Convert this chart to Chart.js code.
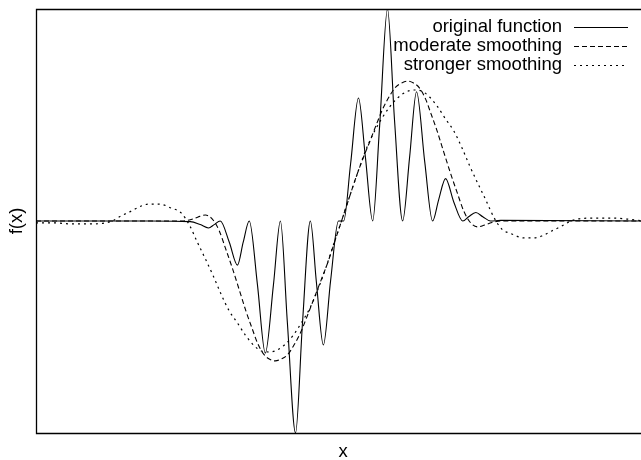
<!DOCTYPE html>
<html>
<head>
<meta charset="utf-8">
<script src="https://cdn.jsdelivr.net/npm/chart.js@4"></script>
<style>
  body { margin: 0; background: #fff; }
</style>
</head>
<body>
<canvas id="myChart" width="641" height="460"></canvas>
<script>
var seriesNames = ['original function', 'moderate smoothing', 'stronger smoothing'];

// original function
var xOrig = [-10, -6.23, -4.90, -4.57, -4.30, -4.11, -3.91, -3.61, -3.34, -3.15, -2.95, -2.68, -2.42, -2.15, -1.92, -1.69, -1.42, -1.19, -0.93, -0.73, -0.50, -0.26, 0.00, 0.17, 0.40, 0.66, 0.89, 1.13, 1.36, 1.62, 1.85, 2.12, 2.35, 2.58, 2.85, 3.11, 3.31, 3.54, 3.81, 4.11, 4.30, 4.54, 4.77, 5.03, 5.36, 10];
var yOrig = [0, 0, -0.003, -0.017, -0.033, -0.017, 0, -0.10, -0.208, -0.10, 0, -0.30, -0.623, -0.30, 0, -0.48, -1.0, -0.48, 0, -0.29, -0.585, -0.28, 0, 0, 0.27, 0.58, 0.30, 0, 0.45, 1.0, 0.48, 0, 0.30, 0.61, 0.28, 0, 0.10, 0.20, 0.09, 0, 0.02, 0.04, 0.02, 0, 0.003, 0];

// moderate smoothing
var xMod = [-10, -5.17, -4.87, -4.64, -4.40, -4.17, -3.94, -3.74, -3.51, -3.28, -3.05, -2.85, -2.68, -2.48, -2.29, -2.09, -1.89, -1.69, -1.49, -1.26, -1.06, -0.83, -0.60, -0.36, -0.13, 0.10, 0.33, 0.56, 0.79, 1.03, 1.26, 1.46, 1.69, 1.89, 2.09, 2.29, 2.48, 2.68, 2.88, 3.05, 3.25, 3.48, 3.71, 3.94, 4.14, 4.37, 4.60, 4.83, 5.07, 5.36, 10];
var yMod = [0, 0, 0.007, 0.019, 0.028, 0.009, -0.047, -0.127, -0.222, -0.325, -0.429, -0.509, -0.575, -0.627, -0.651, -0.660, -0.651, -0.632, -0.590, -0.528, -0.458, -0.373, -0.288, -0.198, -0.099, 0, 0.099, 0.198, 0.288, 0.373, 0.458, 0.528, 0.590, 0.632, 0.651, 0.660, 0.651, 0.627, 0.575, 0.509, 0.429, 0.325, 0.222, 0.127, 0.047, -0.009, -0.028, -0.019, -0.007, 0, 0];

// stronger smoothing
var xStr = [-10, -9.34, -8.84, -8.34, -7.85, -7.48, -7.19, -6.85, -6.52, -6.26, -5.93, -5.53, -5.20, -4.93, -4.67, -4.40, -4.14, -3.87, -3.61, -3.34, -3.08, -2.81, -2.55, -2.28, -2.02, -1.75, -1.49, -1.23, -0.96, -0.70, -0.43, -0.17, 0.10,
            0.36, 0.63, 0.89, 1.16, 1.42, 1.69, 1.95, 2.22, 2.48, 2.75, 3.01, 3.28, 3.54, 3.81, 4.07, 4.34, 4.60, 4.87, 5.13, 5.40, 5.73, 6.13, 6.46, 6.72, 7.05, 7.38, 7.68, 8.05, 8.54, 9.04, 9.54, 10];
var yStr = [-0.009, -0.009, -0.014, -0.014, -0.012, 0, 0.024, 0.047, 0.071, 0.080, 0.080, 0.061, 0.038, -0.019, -0.099, -0.179, -0.259, -0.349, -0.425, -0.481, -0.538, -0.585, -0.613, -0.618, -0.608, -0.580, -0.538, -0.481, -0.415, -0.330, -0.226, -0.113, 0,
            0.113, 0.226, 0.330, 0.415, 0.481, 0.538, 0.580, 0.608, 0.618, 0.613, 0.585, 0.538, 0.481, 0.425, 0.349, 0.259, 0.179, 0.099, 0.019, -0.038, -0.061, -0.080, -0.080, -0.071, -0.047, -0.024, 0, 0.012, 0.014, 0.014, 0.009, 0.002];

var xRange = [-10, 10];
var yRange = [-1, 1];

function pts(xs, ys) {
  return xs.map(function (x, i) { return { x: x, y: ys[i] }; });
}

var FONT = '18.5px "Liberation Sans", Arial, sans-serif';

// gnuplot-like frame, axis labels and legend (text first, sample line after)
var decor = {
  id: 'decor',
  afterDraw: function (chart) {
    var ctx = chart.ctx, a = chart.chartArea;
    ctx.save();
    ctx.strokeStyle = '#000';
    ctx.lineWidth = 1.3;
    ctx.setLineDash([]);
    ctx.beginPath();
    ctx.moveTo(a.right, a.top + 0.5);
    ctx.lineTo(a.left + 0.5, a.top + 0.5);
    ctx.lineTo(a.left + 0.5, a.bottom + 0.5);
    ctx.lineTo(a.right, a.bottom + 0.5);
    ctx.stroke();

    ctx.fillStyle = '#000';
    ctx.font = FONT;
    ctx.textAlign = 'center';
    ctx.textBaseline = 'middle';
    ctx.fillText('x', 343, 452);
    ctx.save();
    ctx.translate(17, (a.top + a.bottom) / 2);
    ctx.rotate(-Math.PI / 2);
    ctx.fillText('f(x)', 0, 0);
    ctx.restore();

    ctx.textAlign = 'right';
    ctx.lineWidth = 1.1;
    chart.data.datasets.forEach(function (ds, i) {
      var y = 27 + i * 19;
      ctx.fillText(ds.label, 562, y);
      ctx.setLineDash(ds.borderDash || []);
      ctx.beginPath();
      ctx.moveTo(574, y + 0.5);
      ctx.lineTo(628, y + 0.5);
      ctx.stroke();
    });
    ctx.restore();
  }
};

var ctx = document.getElementById('myChart');
var myChart = new Chart(ctx, {
  type: 'line',
  data: {
    datasets: [
      { label: seriesNames[0], data: pts(xOrig, yOrig), borderColor: '#000', borderWidth: 1.1, borderDash: [] },
      { label: seriesNames[1], data: pts(xMod, yMod), borderColor: '#000', borderWidth: 1.1, borderDash: [5, 3] },
      { label: seriesNames[2], data: pts(xStr, yStr), borderColor: '#000', borderWidth: 1.2, borderDash: [2, 4] }
    ]
  },
  options: {
    responsive: false,
    animation: false,
    devicePixelRatio: 1,
    layout: { padding: { left: 36, right: 0, top: 9, bottom: 27 } },
    elements: {
      point: { radius: 0 },
      line: { cubicInterpolationMode: 'monotone', fill: false }
    },
    scales: {
      x: { type: 'linear', min: xRange[0], max: xRange[1], display: false },
      y: { type: 'linear', min: yRange[0], max: yRange[1], display: false }
    },
    plugins: {
      legend: { display: false },
      tooltip: { enabled: false }
    }
  },
  plugins: [decor]
});
</script>
</body>
</html>
